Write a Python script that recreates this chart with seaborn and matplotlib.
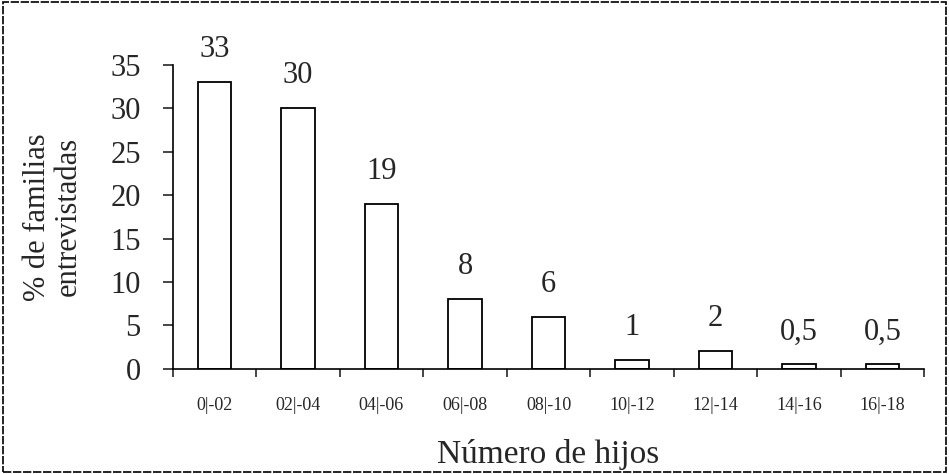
import numpy as np
import pandas as pd
import matplotlib
matplotlib.use('Agg')
import matplotlib.pyplot as plt
import seaborn as sns
from matplotlib.patches import Rectangle

categorias = ['0|-02', '02|-04', '04|-06', '06|-08', '08|-10',
              '10|-12', '12|-14', '14|-16', '16|-18']
porcentajes = [33, 30, 19, 8, 6, 1, 2, 0.5, 0.5]
etiquetas = ['33', '30', '19', '8', '6', '1', '2', '0,5', '0,5']

sns.set_style('white')
plt.rcParams['font.family'] = ['Liberation Serif', 'DejaVu Serif']

df = pd.DataFrame({'Rango': categorias, 'Porcentaje': porcentajes})

fig = plt.figure(figsize=(9.49, 4.74), dpi=100)
ax = fig.add_axes([0.182, 0.222, 0.792, 0.641])

sns.barplot(data=df, x='Rango', y='Porcentaje', color='white',
            edgecolor='black', linewidth=1.3, width=0.4, ax=ax)

ax.bar_label(ax.containers[0], labels=etiquetas, padding=13, fontsize=22)

ax.set_ylim(0, 35)
ax.set_xlim(-0.5, len(categorias) - 0.5)
ax.set_yticks(range(0, 36, 5))
ax.tick_params(axis='y', labelsize=22, direction='out', length=7, width=1.2, left=True, pad=16)
ax.tick_params(axis='x', which='major', labelsize=13, length=0, pad=20)
ax.set_xticks(np.arange(-0.5, len(categorias), 1.0), minor=True)
ax.tick_params(axis='x', which='minor', direction='out', length=6, width=1.2, bottom=True)

for s in ['top', 'right']:
    ax.spines[s].set_visible(False)
for s in ['left', 'bottom']:
    ax.spines[s].set_color('black')
    ax.spines[s].set_linewidth(1.2)

ax.set_xlabel('Número de hijos', fontsize=24, labelpad=18)
ax.set_ylabel('% de familias\nentrevistadas', fontsize=22, labelpad=20, linespacing=1.05)

fig.patches.append(Rectangle((0.003, 0.004), 0.994, 0.992, transform=fig.transFigure,
                             fill=False, edgecolor='black', linewidth=1.2, linestyle=(0, (5, 1))))

fig.savefig('out.png', dpi=100)
